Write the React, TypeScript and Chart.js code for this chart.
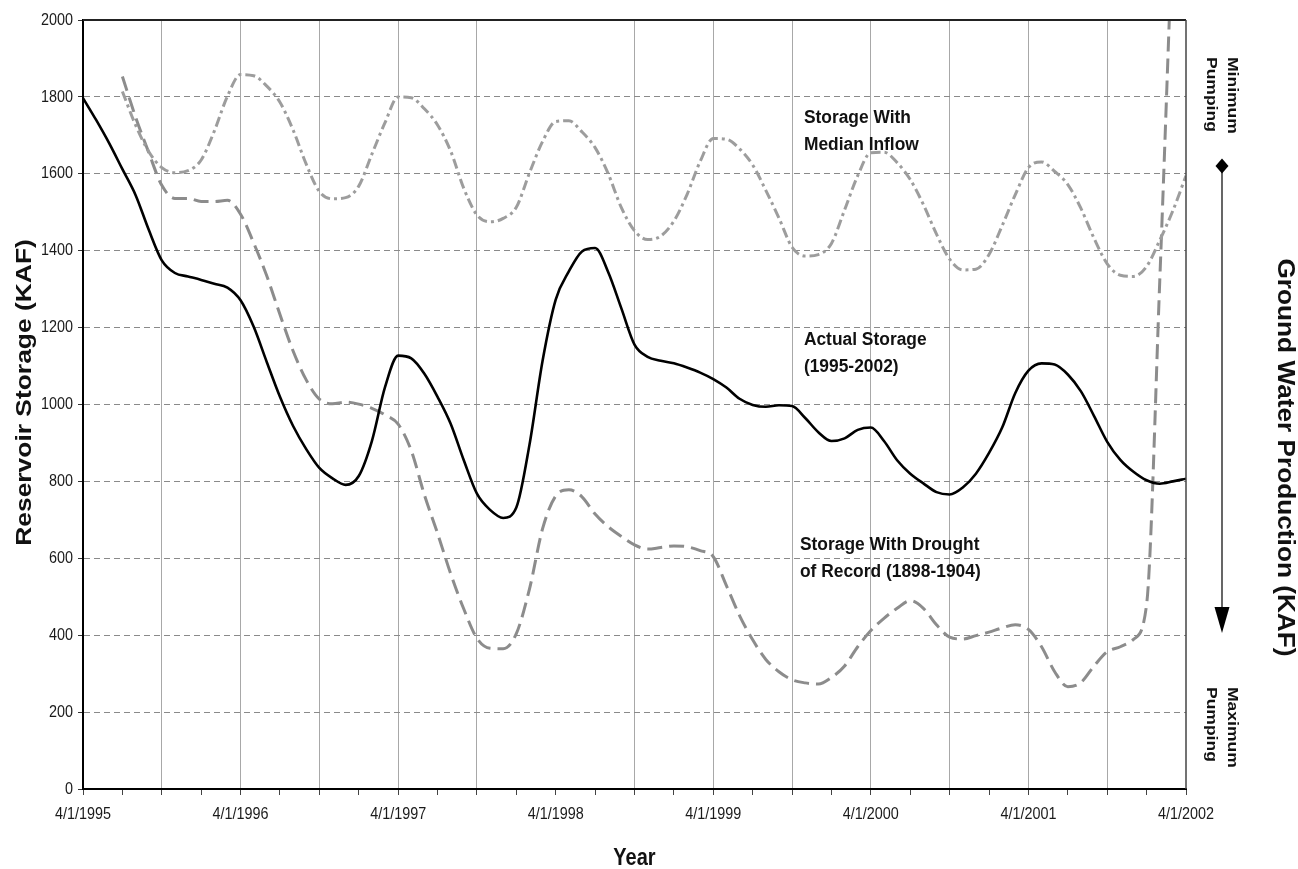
import React, { useEffect, useRef } from 'react';
import { Chart, registerables } from 'chart.js';

Chart.register(...registerables);

// Month offsets from 4/1/1995 (0) to 4/1/2002 (84)
const monthIndex: number[] = Array.from({ length: 85 }, (_, i) => i);

const xTickLabels = ['4/1/1995', '4/1/1996', '4/1/1997', '4/1/1998', '4/1/1999', '4/1/2000', '4/1/2001', '4/1/2002'];

const actualStorage: (number | null)[] = [
  1797, 1740, 1679, 1612, 1545, 1455, 1375, 1342, 1333, 1324,
  1314, 1304, 1271, 1202, 1110, 1020, 944, 884, 835, 808,
  791, 814, 905, 1045, 1127, 1120, 1080, 1020, 950, 855,
  768, 726, 705, 732, 895, 1114, 1273, 1346, 1398, 1407,
  1344, 1250, 1156, 1124, 1114, 1107, 1096, 1083, 1066, 1044,
  1015, 999, 994, 998, 996, 965, 928, 905, 912, 934,
  940, 905, 855, 820, 795, 772, 766, 784, 820, 874,
  940, 1030, 1088, 1107, 1104, 1078, 1034, 970, 903, 856,
  825, 803, 794, 800, 807,
];

const medianInflow: (number | null)[] = [
  null, null, null, 1814, 1727, 1658, 1616, 1603, 1608, 1636,
  1711, 1802, 1858, 1855, 1828, 1786, 1714, 1625, 1554, 1535,
  1538, 1568, 1651, 1733, 1800, 1798, 1769, 1727, 1659, 1562,
  1493, 1475, 1484, 1513, 1602, 1684, 1736, 1738, 1709, 1668,
  1600, 1512, 1452, 1429, 1438, 1477, 1546, 1632, 1692, 1690,
  1665, 1623, 1557, 1485, 1409, 1386, 1390, 1419, 1506, 1595,
  1655, 1656, 1629, 1585, 1520, 1443, 1378, 1350, 1352, 1390,
  1465, 1546, 1616, 1631, 1606, 1572, 1510, 1432, 1366, 1336,
  1333, 1359, 1427, 1504, 1595,
];

const droughtOfRecord: (number | null)[] = [
  null, null, null, 1853, 1748, 1656, 1570, 1536, 1536, 1528,
  1528, 1531, 1495, 1420, 1334, 1234, 1139, 1064, 1014, 1002,
  1006, 1001, 990, 973, 949, 880, 765, 665, 560, 468,
  392, 366, 365, 404, 520, 677, 762, 778, 760, 715,
  682, 657, 635, 624, 628, 632, 630, 620, 604, 529,
  451, 388, 337, 305, 284, 276, 273, 290, 320, 370,
  412, 444, 470, 490, 470, 427, 395, 390, 399, 408,
  419, 427, 415, 370, 305, 266, 277, 320, 357, 370,
  389, 480, 1320, 2260, null,
];

const annotations = [
  { lines: ['Storage With', 'Median Inflow'], month: 54.9, value: 1732 },
  { lines: ['Actual Storage', '(1995-2002)'], month: 54.9, value: 1155 },
  { lines: ['Storage With Drought', 'of Record (1898-1904)'], month: 54.6, value: 622 },
];

const FONT = '"Liberation Sans", Arial, Helvetica, sans-serif';

function toPoints(arr: (number | null)[]) {
  return arr.map((v, i) => ({ x: monthIndex[i], y: v }));
}

function drawText(
  ctx: CanvasRenderingContext2D,
  text: string,
  x: number,
  y: number,
  font: string,
  align: CanvasTextAlign,
  baseline: CanvasTextBaseline,
  rot = 0,
  sx = 1,
  sy = 1,
  color = '#111'
) {
  ctx.save();
  ctx.translate(x, y);
  if (rot) ctx.rotate(rot);
  ctx.scale(sx, sy);
  ctx.font = font;
  ctx.textAlign = align;
  ctx.textBaseline = baseline;
  ctx.fillStyle = color;
  ctx.fillText(text, 0, 0);
  ctx.restore();
}

const decorPlugin = {
  id: 'decor',
  afterDraw(chart: any) {
    const ctx: CanvasRenderingContext2D = chart.ctx;
    const a = chart.chartArea;
    const xs = chart.scales.x;
    const ys = chart.scales.y;

    ctx.save();
    // top and right frame
    ctx.strokeStyle = '#222';
    ctx.lineWidth = 2;
    ctx.beginPath();
    ctx.moveTo(a.left, a.top);
    ctx.lineTo(a.right, a.top);
    ctx.stroke();
    ctx.strokeStyle = '#444';
    ctx.lineWidth = 1.5;
    ctx.beginPath();
    ctx.moveTo(a.right, a.top);
    ctx.lineTo(a.right, a.bottom);
    ctx.stroke();
    ctx.restore();

    // y tick labels
    ys.ticks.forEach((t: any) => {
      drawText(ctx, String(t.value), a.left - 10, ys.getPixelForValue(t.value), `14.4px ${FONT}`, 'right', 'middle', 0, 1, 1.17, '#1a1a1a');
    });
    // x tick labels
    xs.ticks.forEach((t: any) => {
      if (t.value % 12 === 0) {
        const lbl = xTickLabels[t.value / 12];
        if (lbl) drawText(ctx, lbl, xs.getPixelForValue(t.value), a.bottom + 25, `14.4px ${FONT}`, 'center', 'middle', 0, 1, 1.17, '#1a1a1a');
      }
    });

    // axis titles
    drawText(ctx, 'Year', (a.left + a.right) / 2, a.bottom + 76, `bold 20px ${FONT}`, 'center', 'alphabetic', 0, 1, 1.2);
    drawText(ctx, 'Reservoir Storage (KAF)', 31, (a.top + a.bottom) / 2 - 12, `bold 22px ${FONT}`, 'center', 'alphabetic', -Math.PI / 2, 1.2, 1);
    drawText(ctx, 'Ground Water Production (KAF)', a.right + 92, (a.top + a.bottom) / 2 + 53, `bold 23px ${FONT}`, 'center', 'alphabetic', Math.PI / 2, 1.14, 1);

    // pumping labels
    const pf = `bold 14px ${FONT}`;
    drawText(ctx, 'Minimum', a.right + 42, a.top + 37, pf, 'left', 'alphabetic', Math.PI / 2, 1.25, 1);
    drawText(ctx, 'Pumping', a.right + 21, a.top + 37, pf, 'left', 'alphabetic', Math.PI / 2, 1.25, 1);
    drawText(ctx, 'Maximum', a.right + 42, a.top + 667, pf, 'left', 'alphabetic', Math.PI / 2, 1.25, 1);
    drawText(ctx, 'Pumping', a.right + 21, a.top + 667, pf, 'left', 'alphabetic', Math.PI / 2, 1.25, 1);

    // arrow with diamond
    const ax = a.right + 36;
    const dy = a.top + 146;
    const tip = a.top + 613;
    ctx.save();
    ctx.strokeStyle = '#000';
    ctx.fillStyle = '#000';
    ctx.lineWidth = 1.2;
    ctx.beginPath();
    ctx.moveTo(ax, dy);
    ctx.lineTo(ax, tip - 20);
    ctx.stroke();
    ctx.beginPath();
    ctx.moveTo(ax, dy - 7.5);
    ctx.lineTo(ax + 6.5, dy);
    ctx.lineTo(ax, dy + 7.5);
    ctx.lineTo(ax - 6.5, dy);
    ctx.closePath();
    ctx.fill();
    ctx.beginPath();
    ctx.moveTo(ax - 7.5, tip - 26);
    ctx.lineTo(ax + 7.5, tip - 26);
    ctx.lineTo(ax, tip);
    ctx.closePath();
    ctx.fill();
    ctx.restore();

    // annotations
    annotations.forEach((an) => {
      const x = xs.getPixelForValue(an.month);
      const y = ys.getPixelForValue(an.value);
      an.lines.forEach((ln, i) => {
        drawText(ctx, ln, x, y + i * 27, `bold 17.4px ${FONT}`, 'left', 'alphabetic', 0, 1, 1.07, '#111');
      });
    });
  },
};

export default function App() {
  const ref = useRef<HTMLCanvasElement>(null);

  useEffect(() => {
    if (!ref.current) return;
    const chart = new Chart(ref.current, {
      type: 'line',
      data: {
        datasets: [
          {
            label: 'Actual Storage (1995-2002)',
            data: toPoints(actualStorage),
            borderColor: '#000',
            borderWidth: 2.6,
            pointRadius: 0,
            cubicInterpolationMode: 'monotone',
            fill: false,
          },
          {
            label: 'Storage With Median Inflow',
            data: toPoints(medianInflow),
            borderColor: '#9d9d9d',
            borderWidth: 3,
            borderDash: [10, 4, 3, 4],
            pointRadius: 0,
            cubicInterpolationMode: 'monotone',
            fill: false,
          },
          {
            label: 'Storage With Drought of Record (1898-1904)',
            data: toPoints(droughtOfRecord),
            borderColor: '#8c8c8c',
            borderWidth: 3,
            borderDash: [15, 7],
            pointRadius: 0,
            cubicInterpolationMode: 'monotone',
            fill: false,
          },
        ],
      } as any,
      options: {
        animation: false,
        responsive: false,
        devicePixelRatio: 1,
        layout: { padding: { top: 20, right: 112, bottom: 0, left: 0 } },
        plugins: {
          legend: { display: false },
          tooltip: { enabled: false },
        },
        scales: {
          x: {
            type: 'linear',
            min: 0,
            max: 84,
            afterFit: (s: any) => {
              s.height = 80;
            },
            ticks: { display: false, stepSize: 3 },
            grid: {
              color: (c: any) => {
                const v = c.tick ? c.tick.value : -1;
                return v % 6 === 0 && v !== 0 && v !== 84 && v !== 36 ? '#a8a8a8' : 'rgba(0,0,0,0)';
              },
              lineWidth: 1,
              drawTicks: true,
              tickLength: 6,
              tickColor: '#444',
              tickWidth: 1,
            },
            border: { display: true, color: '#000', width: 2 },
          },
          y: {
            type: 'linear',
            min: 0,
            max: 2000,
            afterFit: (s: any) => {
              s.width = 83;
            },
            ticks: { display: false, stepSize: 200 },
            grid: {
              color: '#8a8a8a',
              lineWidth: 1,
              drawTicks: true,
              tickLength: 5,
              tickColor: '#333',
              tickBorderDash: [],
            },
            border: { display: true, color: '#000', width: 2, dash: [6, 4] },
          },
        },
      } as any,
      plugins: [decorPlugin],
    });
    return () => chart.destroy();
  }, []);

  return (
    <div style={{ position: 'absolute', left: 0, top: 0, width: 1298, height: 869, background: '#fff' }}>
      <canvas ref={ref} width={1298} height={869} style={{ display: 'block', width: 1298, height: 869 }} />
    </div>
  );
}
